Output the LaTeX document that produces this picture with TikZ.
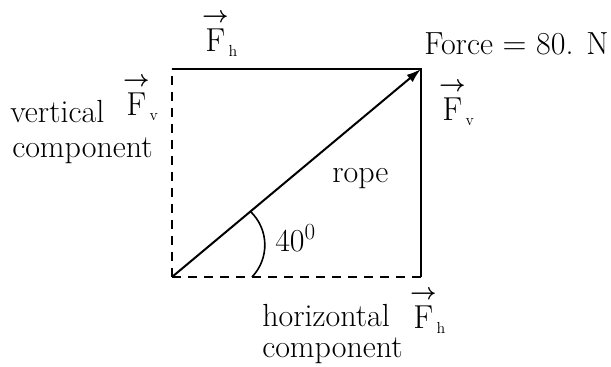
\documentclass[tikz,border=0pt]{standalone}
\usepackage{amsmath,amssymb}
\usepackage{tikz}
\usetikzlibrary{positioning,arrows.meta,calc}

\newcommand{\forcevec}[1]{$\overset{\boldsymbol{\rightarrow}}{\mathrm{F}}_{\scriptscriptstyle\mathrm{#1}}$}

\begin{document}
\begin{tikzpicture}[
            x=0.75pt, y=0.75pt,
            font=\fontsize{24}{28}\selectfont,
            >={Latex[length=11pt,width=7pt]},
            side/.style={line width=1.5pt},
            comp/.style={line width=1.3pt, dash pattern=on 7pt off 5pt},
            lbl/.style={inner sep=0pt, anchor=base west},
            vecl/.style={inner sep=0pt},
            ]
            \useasboundingbox (0,0) rectangle (611,367);

            % corners of the force rectangle
            \coordinate (o) at (172,90);
            \coordinate (tl) at (172,298);
            \coordinate (tip) at (421,298);
            \coordinate (br) at (421,90);

            \draw[side] (tl) -- (tip) -- (br);
            \draw[comp] (o) -- (tl);
            \draw[comp] (o) -- (br);
            \draw[side, ->] (o) -- (tip);

            % angle mark
            \coordinate (a1) at ($(o)!0.315!(tip)$);
            \coordinate (a2) at (252,90);
            \draw[line width=1.2pt] (a1) to[bend left=45] (a2);

            \node[vecl] (fhtop) at (220,334) {\forcevec{h}};
            \node[lbl] (force) at (424,312) {Force $=$ 80. N};
            \node[vecl] (fvright) at (457,265) {\forcevec{v}};
            \node[vecl] (fvleft) at (141,270) {\forcevec{v}};
            \node[lbl] (vert) at (10,244) {vertical};
            \node[lbl] (vcomp) at (12,209) {component};
            \node[lbl] (rope) at (332,184) {rope};
            \node[lbl] (ang) at (275,115) {40$^{0}$};
            \node[lbl] (horiz) at (262,40) {horizontal};
            \node[lbl] (hcomp) at (262,9) {component};
            \node[vecl] (fhbot) at (428,57) {\forcevec{h}};
        \end{tikzpicture}
\end{document}
